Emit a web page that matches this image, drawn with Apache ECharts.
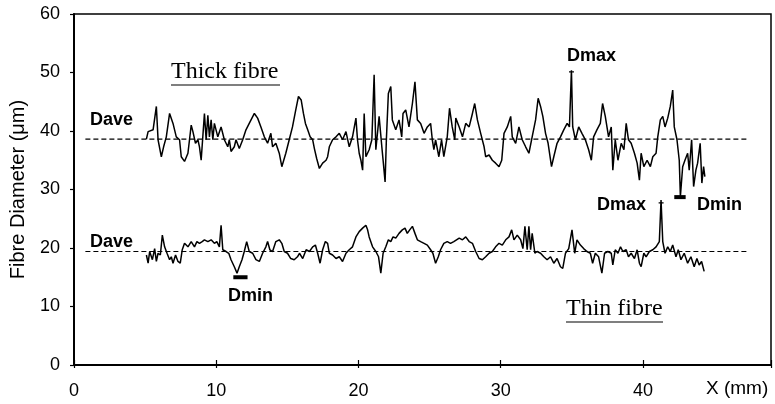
<!DOCTYPE html>
<html><head><meta charset="utf-8">
<script src="https://cdn.jsdelivr.net/npm/echarts@6/dist/echarts.min.js"></script>
<style>html,body{margin:0;padding:0;background:#fff}#c{width:775px;height:404px}</style>
</head><body><div id="c"></div>
<script>
const xTicks = [0, 10, 20, 30, 40];
const yTicks = [0, 10, 20, 30, 40, 50, 60];
const thickFibre = [[5.09,38.6],[5.21,39.9],[5.56,40.2],[5.79,44.2],[5.91,38.5],[6.14,35.6],[6.30,37.3],[6.49,39.0],[6.72,43.0],[6.96,41.3],[7.19,39.0],[7.42,38.5],[7.54,35.6],[7.77,34.8],[8.01,36.2],[8.12,38.5],[8.24,41.0],[8.36,39.9],[8.54,37.9],[8.71,38.5],[8.82,37.3],[8.94,35.0],[9.06,34.8],[9.17,43.0],[9.29,38.5],[9.41,42.7],[9.52,39.0],[9.64,41.9],[9.76,38.5],[9.87,41.3],[10.11,39.0],[10.34,40.7],[10.57,38.5],[10.81,37.3],[10.92,38.5],[11.04,36.5],[11.27,37.3],[11.39,38.5],[11.62,37.0],[11.86,38.5],[12.09,40.2],[12.32,41.3],[12.68,43.0],[12.91,42.2],[13.14,40.7],[13.38,39.0],[13.61,37.9],[13.84,39.6],[13.96,37.3],[14.19,37.9],[14.43,36.2],[14.61,33.9],[14.89,36.2],[15.13,38.5],[15.36,40.7],[15.59,43.6],[15.78,45.9],
[15.85,46.2],[15.97,45.3],[16.13,43.0],[16.27,41.3],[16.43,40.2],[16.60,39.0],[16.78,38.5],[16.90,37.0],[17.06,35.3],[17.25,33.6],[17.48,34.5],[17.72,35.0],[17.83,35.6],[17.95,37.3],[18.18,38.5],[18.42,39.0],[18.65,39.6],[18.88,38.5],[19.12,39.9],[19.35,37.3],[19.58,39.0],[19.82,42.2],[19.93,38.5],[20.05,36.2],[20.17,35.0],[20.29,33.3],[20.40,43.0],[20.52,35.6],[20.75,36.8],[20.94,38.5],[21.10,49.6],[21.22,36.8],[21.45,42.5],[21.64,37.3],[21.73,35.0],[21.87,31.3],[21.96,38.5],[22.10,46.4],[22.27,47.6],[22.38,41.9],[22.62,40.2],[22.85,41.9],[23.04,39.0],[23.13,43.0],[23.32,43.6],[23.55,40.7],[23.79,44.7],[23.97,48.4],[24.14,41.9],[24.37,41.3],[24.61,39.6],[24.84,40.7],[25.07,41.3],[25.19,38.5],[25.30,36.8],[25.42,38.5],[25.65,35.6],[25.84,38.5],[26.00,35.6],[26.24,39.0],[26.40,43.9],[26.59,40.7],[26.77,38.5],
[26.84,42.2],[27.08,40.7],[27.31,39.0],[27.54,41.3],[27.78,40.7],[28.01,43.0],[28.17,44.7],[28.36,41.9],[28.59,39.6],[28.83,37.3],[28.94,35.6],[29.18,35.9],[29.41,35.0],[29.64,34.5],[29.88,33.9],[30.07,35.0],[30.23,39.6],[30.46,40.7],[30.70,42.5],[30.81,39.0],[31.05,37.9],[31.28,40.7],[31.51,38.5],[31.75,37.3],[31.98,36.2],[32.21,39.0],[32.45,41.9],[32.63,45.6],[32.80,44.2],[32.96,42.5],[33.15,39.6],[33.33,37.9],[33.57,33.9],[33.73,35.6],[33.96,37.9],[34.20,39.0],[34.43,40.2],[34.67,41.3],[34.83,40.7],[34.97,50.4],[35.06,40.7],[35.25,38.5],[35.48,40.7],[35.71,39.6],[35.95,38.5],[36.18,36.8],[36.37,35.0],[36.53,39.0],[36.76,40.2],[37.00,41.3],[37.16,44.7],[37.35,42.5],[37.58,39.0],[37.77,40.7],
[37.88,33.3],[38.05,38.5],[38.24,35.0],[38.47,37.9],[38.66,36.8],[38.82,41.3],[38.98,38.5],[39.17,37.9],[39.40,36.2],[39.59,34.5],[39.75,31.6],[39.87,36.2],[40.06,33.9],[40.29,35.0],[40.52,33.9],[40.69,35.6],[40.92,36.2],[41.04,39.0],[41.22,41.9],[41.39,42.5],[41.55,40.7],[41.74,42.2],[41.92,44.2],[42.09,47.0],[42.20,40.7],[42.39,38.5],[42.55,35.0],[42.63,28.8],[42.79,33.9],[42.95,35.0],[43.14,36.2],[43.25,33.3],[43.42,38.5],[43.56,30.5],[43.72,33.3],[43.84,34.5],[44.02,37.9],[44.14,31.1],[44.26,33.9],[44.35,32.2]];
const thinFibre = [[5.09,18.8],[5.21,17.4],[5.32,19.4],[5.51,18.0],[5.67,19.9],[5.79,17.7],[5.91,19.1],[6.07,18.8],[6.21,22.2],[6.37,20.2],[6.54,19.1],[6.72,18.0],[6.84,18.5],[6.96,17.4],[7.14,18.8],[7.31,17.7],[7.47,17.4],[7.61,19.7],[7.77,20.8],[8.01,20.2],[8.24,21.1],[8.47,20.2],[8.64,21.1],[8.82,20.8],[9.01,21.1],[9.17,21.4],[9.41,21.1],[9.64,21.4],[9.87,20.8],[10.04,21.1],[10.22,20.2],[10.34,23.9],[10.46,19.7],[10.69,19.4],[10.88,19.1],[11.04,18.0],[11.27,16.8],[11.46,15.7],[11.62,16.8],[11.81,18.0],[11.97,19.4],[12.14,21.1],[12.32,19.4],[12.56,19.1],[12.79,18.0],[13.03,17.7],[13.26,19.1],[13.49,20.2],[13.61,21.1],[13.77,19.7],[13.96,19.4],[14.19,21.1],[14.43,21.4],[14.61,20.8],[14.78,19.4],[15.01,19.1],[15.24,18.2],[15.48,18.0],[15.71,18.5],
[15.85,19.1],[16.08,18.2],[16.32,19.7],[16.55,19.4],[16.78,20.2],[16.97,20.5],[17.13,19.1],[17.30,17.4],[17.48,19.7],[17.67,21.1],[17.83,20.8],[17.95,19.1],[18.18,18.8],[18.42,18.2],[18.65,18.5],[18.88,17.7],[19.12,19.1],[19.35,19.7],[19.58,20.2],[19.82,21.9],[20.05,22.8],[20.29,23.4],[20.52,23.9],[20.64,23.1],[20.75,21.9],[20.99,20.2],[21.22,19.4],[21.41,18.5],[21.57,15.7],[21.73,19.1],[21.92,20.2],[22.10,21.4],[22.27,21.1],[22.43,21.9],[22.62,21.7],[22.85,22.5],[23.08,23.1],[23.27,23.4],[23.43,22.5],[23.60,23.1],[23.79,23.7],[23.97,22.5],[24.14,21.4],[24.37,21.1],[24.61,20.8],[24.84,20.5],[25.07,19.7],[25.23,19.1],[25.42,17.4],[25.61,18.5],[25.77,19.7],[26.00,20.8],[26.24,21.1],[26.47,20.8],[26.70,21.1],
[26.84,21.4],[27.08,21.7],[27.31,21.4],[27.54,21.9],[27.78,21.1],[28.01,20.8],[28.24,19.4],[28.48,18.2],[28.71,18.0],[28.94,18.5],[29.18,19.1],[29.41,19.4],[29.64,20.2],[29.88,20.8],[30.11,20.5],[30.35,21.4],[30.58,21.9],[30.77,23.1],[30.93,21.4],[31.16,22.2],[31.40,21.4],[31.56,19.9],[31.70,23.7],[31.86,19.7],[31.98,23.7],[32.10,19.7],[32.21,22.5],[32.40,19.1],[32.56,19.4],[32.80,19.1],[33.03,18.5],[33.26,18.0],[33.50,18.5],[33.73,17.4],[33.96,18.2],[34.20,16.8],[34.36,16.5],[34.55,19.1],[34.78,19.9],[35.01,23.1],[35.20,19.1],[35.36,21.4],[35.60,20.5],[35.83,19.9],[36.06,19.4],[36.30,19.1],[36.46,17.4],[36.65,19.1],[36.88,18.5],[37.11,15.7],[37.30,19.1],[37.53,19.4],[37.77,19.1],
[37.88,17.1],[38.05,19.7],[38.24,19.1],[38.42,20.2],[38.59,19.4],[38.82,19.7],[38.98,18.5],[39.17,19.1],[39.40,18.2],[39.59,19.7],[39.75,17.4],[39.87,16.8],[40.06,19.1],[40.22,18.5],[40.45,19.4],[40.69,19.7],[40.92,20.2],[41.15,21.1],[41.27,28.2],[41.39,21.1],[41.55,19.1],[41.74,20.2],[41.92,19.4],[42.09,20.5],[42.32,18.5],[42.48,19.7],[42.67,18.0],[42.90,19.1],[43.14,17.4],[43.37,18.5],[43.60,16.8],[43.79,18.2],[43.95,17.1],[44.12,17.7],[44.30,16.0]];
const daveThick = [[0.8,38.6],[47.3,38.6]];
const daveThin = [[0.8,19.4],[47.3,19.4]];
const thickDmaxBar = [[34.8,50.1],[35.15,50.1]];
const thickDminBar = [[42.2,28.7],[43.0,28.7]];
const thinDmaxBar = [[41.1,27.7],[41.45,27.7]];
const thinDminBar = [[11.2,15.0],[12.2,15.0]];

const SANS = '"Liberation Sans", Arial, sans-serif';
const SERIF = '"Liberation Serif", "Times New Roman", serif';
const chart = echarts.init(document.getElementById('c'), null, {renderer: 'canvas'});
function lineS(data, w, type) {
  return {type: 'line', data: data, symbol: 'none', animation: false, silent: true,
    lineStyle: {color: '#000', width: w, type: type || 'solid'}};
}
function txt(x, y, text, font, align) {
  return {type: 'text', x: x, y: y, silent: true,
    style: {text: text, font: font, fill: '#000', align: align || 'left', verticalAlign: 'middle'}};
}
chart.setOption({
  backgroundColor: '#fff',
  animation: false,
  grid: {left: 72, top: 14, right: 4, bottom: 39, show: true, borderColor: '#000', borderWidth: 1.5},
  xAxis: [{
    type: 'value', min: 0, max: 49, interval: 10,
    axisLine: {lineStyle: {color: '#000', width: 2}},
    axisTick: {show: true, length: 3, lineStyle: {color: '#000', width: 1.2}},
    axisLabel: {color: '#000', fontFamily: SANS, fontSize: 18, margin: 17,
      formatter: v => (xTicks.indexOf(v) >= 0 ? String(v) : '')},
    splitLine: {show: false}
  }, {
    type: 'value', min: 0, max: 49, interval: 10, position: 'bottom',
    axisLine: {show: false},
    axisTick: {show: true, inside: true, length: 5, lineStyle: {color: '#000', width: 1.2}},
    axisLabel: {show: false}, splitLine: {show: false}
  }],
  yAxis: {
    type: 'value', min: 0, max: 60, interval: 10,
    name: 'Fibre Diameter (\u03bcm)', nameLocation: 'middle', nameGap: 46,
    nameTextStyle: {color: '#000', fontFamily: SANS, fontSize: 20, padding: [0, 0, 0, 0]},
    axisLine: {lineStyle: {color: '#000', width: 2}},
    axisTick: {show: true, length: 4, lineStyle: {color: '#000', width: 1.2}},
    axisLabel: {color: '#000', fontFamily: SANS, fontSize: 18, margin: 14,
      formatter: v => (yTicks.indexOf(v) >= 0 ? String(v) : '')},
    splitLine: {show: false}
  },
  series: [
    lineS(daveThick, 1.2, [5, 3]),
    lineS(daveThin, 1.2, [5, 3]),
    lineS(thickFibre, 1.5),
    lineS(thinFibre, 1.5),
    lineS(thickDmaxBar, 1.3),
    lineS(thinDmaxBar, 1.3),
    lineS(thickDminBar, 4),
    lineS(thinDminBar, 4)
  ],
  graphic: [
    txt(90, 120, 'Dave', 'bold 18px ' + SANS),
    txt(90, 242, 'Dave', 'bold 18px ' + SANS),
    txt(567, 56, 'Dmax', 'bold 18px ' + SANS),
    txt(597, 205, 'Dmax', 'bold 18px ' + SANS),
    txt(697, 205, 'Dmin', 'bold 18px ' + SANS),
    txt(228, 296, 'Dmin', 'bold 18px ' + SANS),
    txt(706, 389, 'X (mm)', '19px ' + SANS),
    txt(171, 72, 'Thick fibre', '24px ' + SERIF),
    txt(566, 309, 'Thin fibre', '24px ' + SERIF),
    {type: 'line', silent: true, shape: {x1: 171, y1: 85, x2: 280, y2: 85}, style: {stroke: '#000', lineWidth: 1.2}},
    {type: 'line', silent: true, shape: {x1: 566, y1: 322, x2: 663, y2: 322}, style: {stroke: '#000', lineWidth: 1.2}}
  ]
});
</script></body></html>
